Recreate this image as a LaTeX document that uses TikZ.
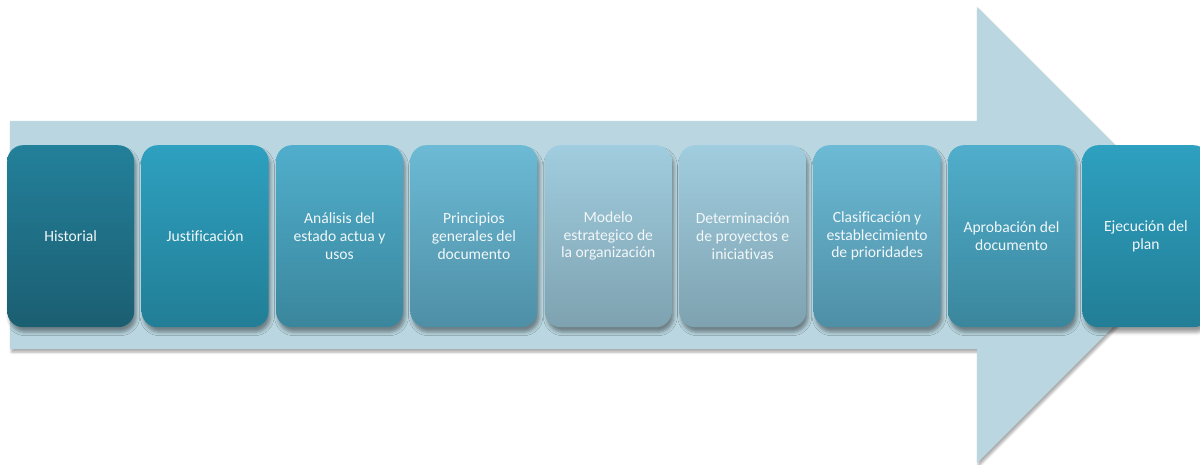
\documentclass[tikz,border=0pt]{standalone}
\usepackage{fontspec}
\setmainfont{Carlito}[Ligatures=NoCommon]
\usepackage{tikz}
\usetikzlibrary{positioning, shadows.blur}
\usepackage{xcolor}

\definecolor{arrowfill}{HTML}{BAD7E1}
\definecolor{topA}{HTML}{23809A}  \definecolor{botA}{HTML}{1B5E71}
\definecolor{topB}{HTML}{2EA0C0}  \definecolor{botB}{HTML}{227E96}
\definecolor{topC}{HTML}{50AECC}  \definecolor{botC}{HTML}{3A869C}
\definecolor{topD}{HTML}{6CBAD5}  \definecolor{botD}{HTML}{4E8FA6}
\definecolor{topE}{HTML}{A0CDDF}  \definecolor{botE}{HTML}{7EA2B0}
\definecolor{labeltext}{HTML}{F2F7F9}

\begin{document}
\begin{tikzpicture}[
  x=1pt, y=-1pt,
  stage/.style={rectangle, rounded corners=16pt, minimum width=127pt,
    minimum height=182pt, inner sep=0pt, align=center,
    text=labeltext, font=\fontsize{15.6}{17.6}\selectfont,
    blur shadow={shadow xshift=2pt, shadow yshift=-5pt,
      shadow blur radius=3.5pt, shadow opacity=40}},
  node distance=7pt
]
\useasboundingbox (0,0) rectangle (1200,465);
\clip (0,0) rectangle (1200,465);

% big arrow behind the stages
\fill[arrowfill, blur shadow={shadow xshift=1.5pt, shadow yshift=-3pt,
    shadow blur radius=2.5pt, shadow opacity=35}]
  (10,121) -- (977,121) -- (977,7) -- (1205,235)
  -- (977,463) -- (977,349) -- (10,349) -- cycle;

\node[stage, top color=topA, bottom color=botA, anchor=north west] (s1) at (7,145) {Historial};
\node[stage, top color=topB, bottom color=botB, right=of s1] (s2) {Justificación};
\node[stage, top color=topC, bottom color=botC, right=of s2] (s3) {Análisis del\\estado actua y\\usos};
\node[stage, top color=topD, bottom color=botD, right=of s3] (s4) {Principios\\generales del\\documento};
\node[stage, top color=topE, bottom color=botE, right=of s4] (s5) {Modelo\\estrategico de\\la organización};
\node[stage, top color=topE, bottom color=botE, right=of s5] (s6) {Determinación\\de proyectos e\\iniciativas};
\node[stage, top color=topD, bottom color=botD, right=of s6] (s7) {Clasificación y\\establecimiento\\de prioridades};
\node[stage, top color=topC, bottom color=botC, right=of s7] (s8) {Aprobación del\\documento};
\node[stage, top color=topB, bottom color=botB, right=of s8] (s9) {Ejecución del\\plan};
\end{tikzpicture}
\end{document}
